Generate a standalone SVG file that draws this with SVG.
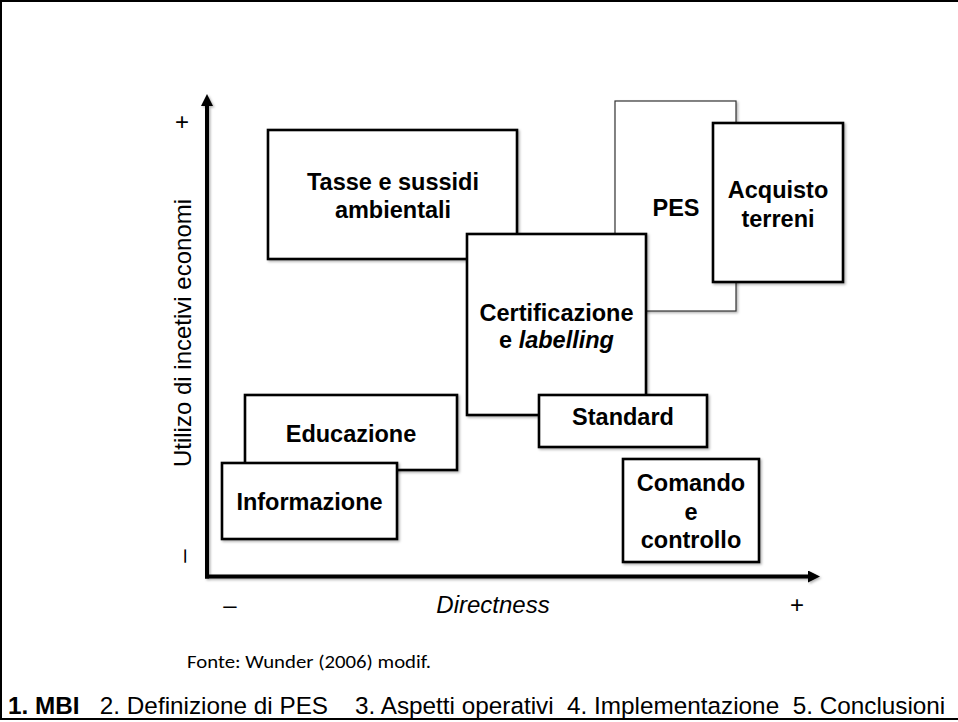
<svg xmlns="http://www.w3.org/2000/svg" width="958" height="722" viewBox="0 0 958 722">
<defs>
<filter id="sh" x="-10%" y="-10%" width="130%" height="130%">
<feDropShadow dx="1.5" dy="1.5" stdDeviation="1" flood-color="#000" flood-opacity="0.3"/>
</filter>
<filter id="shu" filterUnits="userSpaceOnUse" x="180" y="80" width="660" height="520">
<feDropShadow dx="1.5" dy="1.5" stdDeviation="1" flood-color="#000" flood-opacity="0.3"/>
</filter>
<marker id="ah" markerWidth="12" markerHeight="12" viewBox="0 0 12 12" refX="0" refY="6" orient="auto" markerUnits="userSpaceOnUse">
<path d="M0,0 L12,6 L0,12 Z" fill="#000"/>
</marker>
</defs>
<style>
.box{fill:#fff;stroke:#000;stroke-width:2.6;filter:url(#sh)}
.thin{fill:#fff;stroke:#333;stroke-width:1.2;filter:url(#sh)}
.lb{font-family:"Liberation Sans",Arial,sans-serif;font-weight:bold;font-size:23.5px;text-anchor:middle;fill:#000}
.ax{font-family:"Liberation Sans",Arial,sans-serif;font-size:24px;fill:#000}
.axis{stroke:#000;stroke-width:4;fill:none}
</style>
<rect x="1" y="1" width="962" height="718" fill="#fff" stroke="#000" stroke-width="2"/>

<g id="connectors" filter="url(#shu)">
<path class="axis" d="M207,578.5 L207,106" marker-end="url(#ah)"/>
<path class="axis" d="M205,576.5 L808,576.5" marker-end="url(#ah)"/>
</g>

<g id="axis-labels">
<text class="ax" text-anchor="middle" transform="translate(191,333) rotate(-90)">Utilizo di incetivi economi</text>
<text class="ax" text-anchor="middle" x="182" y="129.5">+</text>
<text class="ax" text-anchor="middle" transform="translate(184,556) rotate(-90)" y="6.7">–</text>
<text class="ax" text-anchor="middle" x="230" y="613">–</text>
<text class="ax" text-anchor="middle" x="493" y="613" font-style="italic">Directness</text>
<text class="ax" text-anchor="middle" x="797" y="613">+</text>
</g>

<g id="tasse">
<rect class="box" x="268" y="130" width="249" height="129"/>
<text class="lb" x="393" y="190">Tasse e sussidi</text>
<text class="lb" x="393" y="218">ambientali</text>
</g>

<g id="pes">
<rect class="thin" x="615" y="101" width="121" height="210"/>
<text class="lb" x="676" y="216">PES</text>
</g>

<g id="acquisto">
<rect class="box" x="713" y="123" width="130" height="159"/>
<text class="lb" x="778" y="198">Acquisto</text>
<text class="lb" x="778" y="227">terreni</text>
</g>

<g id="certificazione">
<rect class="box" x="467" y="234" width="179" height="181"/>
<text class="lb" x="556.5" y="321">Certificazione</text>
<text class="lb" x="556.5" y="348">e <tspan font-style="italic">labelling</tspan></text>
</g>

<g id="standard">
<rect class="box" x="539" y="395" width="168" height="52"/>
<text class="lb" x="623" y="425">Standard</text>
</g>

<g id="comando">
<rect class="box" x="623" y="459" width="136" height="103"/>
<text class="lb" x="691" y="491">Comando</text>
<text class="lb" x="691" y="520">e</text>
<text class="lb" x="691" y="548">controllo</text>
</g>

<g id="educazione">
<rect class="box" x="245" y="395" width="212" height="75"/>
<text class="lb" x="351" y="442">Educazione</text>
</g>

<g id="informazione">
<rect class="box" x="222" y="463" width="175" height="76"/>
<text class="lb" x="309.5" y="510">Informazione</text>
</g>

<g id="footer">
<text x="187" y="668" font-family="Carlito,Calibri,'Open Sans',sans-serif" font-size="18" textLength="244" lengthAdjust="spacingAndGlyphs" fill="#000">Fonte: Wunder (2006) modif.</text>
<text x="8" y="714" font-family="'Liberation Sans',Arial,sans-serif" font-size="24.3" fill="#000" xml:space="preserve"><tspan font-weight="bold">1. MBI</tspan>   2. Definizione di PES    3. Aspetti operativi  4. Implementazione  5. Conclusioni</text>
</g>
</svg>
